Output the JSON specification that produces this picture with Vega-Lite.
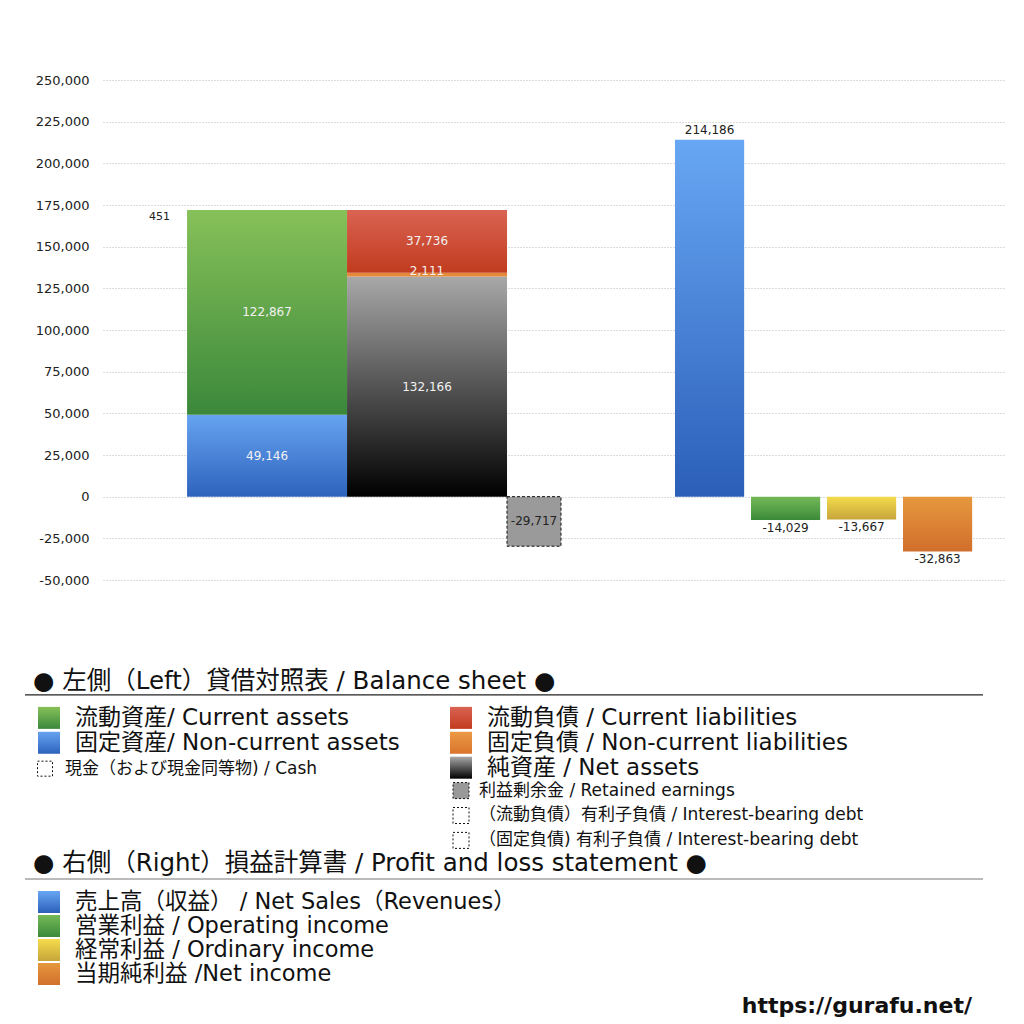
{
  "$schema": "https://vega.github.io/schema/vega-lite/v6.json",
  "background": "white",
  "padding": {"left": 0, "top": 74, "right": 0, "bottom": 0},
  "spacing": 0,
  "config": {
    "locale": {"number": {"decimal": ".", "thousands": ",", "grouping": [3], "currency": ["$", ""], "minus": "-"}},
    "view": {"stroke": null},
    "font": "DejaVu Sans, Noto Sans CJK JP"
  },
  "datasets": {
    "fin": [
      {"side": "BS", "column": "資産", "key": "noncurrent_assets", "item": "固定資産", "value": 49146, "rank": 1},
      {"side": "BS", "column": "資産", "key": "current_assets", "item": "流動資産", "value": 122867, "rank": 2},
      {"side": "BS", "column": "資産", "key": "cash", "item": "現金", "value": 451, "rank": 3},
      {"side": "BS", "column": "負債・純資産", "key": "net_assets", "item": "純資産", "value": 132166, "rank": 1},
      {"side": "BS", "column": "負債・純資産", "key": "noncurrent_liabilities", "item": "固定負債", "value": 2111, "rank": 2},
      {"side": "BS", "column": "負債・純資産", "key": "current_liabilities", "item": "流動負債", "value": 37736, "rank": 3},
      {"side": "RE", "column": "利益剰余金", "key": "retained", "item": "利益剰余金", "value": -29717, "rank": 1},
      {"side": "PL", "column": "売上高", "key": "sales", "item": "売上高", "value": 214186, "rank": 1},
      {"side": "PL", "column": "営業利益", "key": "operating", "item": "営業利益", "value": -14029, "rank": 1},
      {"side": "PL", "column": "経常利益", "key": "ordinary", "item": "経常利益", "value": -13667, "rank": 1},
      {"side": "PL", "column": "当期純利益", "key": "net_income", "item": "当期純利益", "value": -32863, "rank": 1}
    ],
    "bslegend": [
      {"line": 0, "col": "left", "kind": "title", "key": "", "text": "● 左側（Left）貸借対照表 / Balance sheet ●"},
      {"line": 1, "col": "left", "kind": "big", "key": "current_assets", "text": "流動資産/ Current assets"},
      {"line": 2, "col": "left", "kind": "big", "key": "noncurrent_assets", "text": "固定資産/ Non-current assets"},
      {"line": 3, "col": "left", "kind": "small", "key": "cash", "text": "現金（および現金同等物) / Cash"},
      {"line": 1, "col": "right", "kind": "big", "key": "current_liabilities", "text": "流動負債 /  Current liabilities"},
      {"line": 2, "col": "right", "kind": "big", "key": "noncurrent_liabilities", "text": "固定負債 / Non-current liabilities"},
      {"line": 3, "col": "right", "kind": "big", "key": "net_assets", "text": "純資産 / Net assets"},
      {"line": 4, "col": "right", "kind": "small", "key": "retained", "text": "利益剰余金 / Retained earnings"},
      {"line": 5, "col": "right", "kind": "small", "key": "ibd_current", "text": "（流動負債）有利子負債 / Interest-bearing debt"},
      {"line": 6, "col": "right", "kind": "small", "key": "ibd_noncurrent", "text": "（固定負債) 有利子負債 / Interest-bearing debt"}
    ],
    "pllegend": [
      {"line": 0, "col": "left", "kind": "title", "key": "", "text": "● 右側（Right）損益計算書 / Profit and loss statement ●"},
      {"line": 1, "col": "left", "kind": "big", "key": "sales", "text": "売上高（収益） / Net Sales（Revenues）"},
      {"line": 2, "col": "left", "kind": "big", "key": "operating", "text": "営業利益 / Operating income"},
      {"line": 3, "col": "left", "kind": "big", "key": "ordinary", "text": "経常利益 / Ordinary income"},
      {"line": 4, "col": "left", "kind": "big", "key": "net_income", "text": "当期純利益 /Net income"},
      {"line": 5, "col": "right", "kind": "url", "key": "", "text": "https://gurafu.net/"}
    ]
  },
  "vconcat": [
    {
      "width": 902,
      "height": 500,
      "data": {"name": "fin"},
      "resolve": {"scale": {"x": "independent"}},
      "layer": [
        {
          "transform": [{"filter": "datum.side === 'BS'"}],
          "encoding": {
            "x": {"field": "column", "type": "nominal", "sort": null, "axis": null,
                  "scale": {"domain": ["資産", "負債・純資産", "_b1", "_b2", "_b3"], "paddingInner": 0, "paddingOuter": 0.319, "align": 0.8235}}
          },
          "layer": [
            {
              "mark": {"type": "bar"},
              "encoding": {
                "y": {"field": "value", "type": "quantitative", "stack": "zero",
                      "scale": {"domain": [-50000, 250000], "nice": false, "zero": false},
                      "axis": {"values": [-50000, -25000, 0, 25000, 50000, 75000, 100000, 125000, 150000, 175000, 200000, 225000, 250000], "labelExpr": "replace(format(datum.value, ','), '\u2212', '-')", "title": null, "domain": false, "ticks": false, "labelPadding": 14, "labelFontSize": 13, "labelColor": "#222", "labelFont": "DejaVu Sans", "grid": true, "gridDash": [1, 2], "gridColor": "#b8b8b8", "gridWidth": 1, "minExtent": 103, "maxExtent": 103}},
                "detail": {"field": "key"},
                "order": {"field": "rank", "type": "quantitative"},
                "color": {
                  "condition": [
                    {"test": "datum.key === 'current_assets'", "value": {"gradient": "linear", "x1": 0, "y1": 0, "x2": 0, "y2": 1, "stops": [{"offset": 0, "color": "#87c159"}, {"offset": 1, "color": "#3b883b"}]}},
                    {"test": "datum.key === 'noncurrent_assets'", "value": {"gradient": "linear", "x1": 0, "y1": 0, "x2": 0, "y2": 1, "stops": [{"offset": 0, "color": "#66a3f0"}, {"offset": 1, "color": "#2e63bd"}]}},
                    {"test": "datum.key === 'net_assets'", "value": {"gradient": "linear", "x1": 0, "y1": 0, "x2": 0, "y2": 1, "stops": [{"offset": 0, "color": "#a8a8a8"}, {"offset": 1, "color": "#000000"}]}},
                    {"test": "datum.key === 'current_liabilities'", "value": {"gradient": "linear", "x1": 0, "y1": 0, "x2": 0, "y2": 1, "stops": [{"offset": 0, "color": "#da6352"}, {"offset": 1, "color": "#c13b1f"}]}},
                    {"test": "datum.key === 'noncurrent_liabilities'", "value": "#e58a38"}
                  ],
                  "value": "transparent"
                }
              }
            },
            {
              "mark": {"type": "text", "fontSize": 12, "color": "#f2f2f2", "font": "DejaVu Sans"},
              "encoding": {
                "y": {"field": "value", "type": "quantitative", "stack": "zero", "bandPosition": 0.5,
                      "scale": {"domain": [-50000, 250000], "nice": false, "zero": false},
                      "axis": {"values": [-50000, -25000, 0, 25000, 50000, 75000, 100000, 125000, 150000, 175000, 200000, 225000, 250000], "labelExpr": "replace(format(datum.value, ','), '\u2212', '-')", "title": null, "domain": false, "ticks": false, "labelPadding": 14, "labelFontSize": 13, "labelColor": "#222", "labelFont": "DejaVu Sans", "grid": true, "gridDash": [1, 2], "gridColor": "#b8b8b8", "gridWidth": 1, "minExtent": 103, "maxExtent": 103}},
                "detail": {"field": "key"},
                "order": {"field": "rank", "type": "quantitative"},
                "text": {"condition": {"test": "datum.key === 'cash' || datum.key === 'noncurrent_liabilities'", "value": ""}, "field": "value", "type": "quantitative", "format": ","}
              }
            },
            {
              "mark": {"type": "text", "fontSize": 12, "color": "#f2f2f2", "font": "DejaVu Sans", "baseline": "bottom", "dy": 5},
              "encoding": {
                "y": {"field": "value", "type": "quantitative", "stack": "zero", "bandPosition": 1,
                      "scale": {"domain": [-50000, 250000], "nice": false, "zero": false},
                      "axis": {"values": [-50000, -25000, 0, 25000, 50000, 75000, 100000, 125000, 150000, 175000, 200000, 225000, 250000], "labelExpr": "replace(format(datum.value, ','), '\u2212', '-')", "title": null, "domain": false, "ticks": false, "labelPadding": 14, "labelFontSize": 13, "labelColor": "#222", "labelFont": "DejaVu Sans", "grid": true, "gridDash": [1, 2], "gridColor": "#b8b8b8", "gridWidth": 1, "minExtent": 103, "maxExtent": 103}},
                "detail": {"field": "key"},
                "order": {"field": "rank", "type": "quantitative"},
                "text": {"condition": {"test": "datum.key !== 'noncurrent_liabilities'", "value": ""}, "field": "value", "type": "quantitative", "format": ","}
              }
            },
            {
              "mark": {"type": "text", "fontSize": 11, "color": "#222", "font": "DejaVu Sans", "align": "right", "dx": -17, "dy": 7},
              "encoding": {
                "x": {"field": "column", "type": "nominal", "bandPosition": 0},
                "y": {"field": "value", "type": "quantitative", "stack": "zero", "bandPosition": 0.5,
                      "scale": {"domain": [-50000, 250000], "nice": false, "zero": false},
                      "axis": {"values": [-50000, -25000, 0, 25000, 50000, 75000, 100000, 125000, 150000, 175000, 200000, 225000, 250000], "labelExpr": "replace(format(datum.value, ','), '\u2212', '-')", "title": null, "domain": false, "ticks": false, "labelPadding": 14, "labelFontSize": 13, "labelColor": "#222", "labelFont": "DejaVu Sans", "grid": true, "gridDash": [1, 2], "gridColor": "#b8b8b8", "gridWidth": 1, "minExtent": 103, "maxExtent": 103}},
                "detail": {"field": "key"},
                "order": {"field": "rank", "type": "quantitative"},
                "text": {"condition": {"test": "datum.key !== 'cash'", "value": ""}, "field": "value", "type": "quantitative", "format": ","}
              }
            }
          ]
        },
        {
          "transform": [{"filter": "datum.side === 'RE'"}],
          "encoding": {
            "x": {"field": "column", "type": "nominal", "sort": null, "axis": null,
                  "scale": {"domain": ["_r1", "_r2", "_r3", "_r4", "_r5", "_r6", "_r7", "利益剰余金", "_r8", "_r9", "_r10", "_r11", "_r12", "_r13", "_r14", "_r15"], "paddingInner": 0, "paddingOuter": 0.352, "align": 0.684}}
          },
          "layer": [
            {
              "mark": {"type": "bar", "fill": "#9a9a9a", "stroke": "#111", "strokeWidth": 1, "strokeDash": [3, 2]},
              "encoding": {
                "y": {"field": "value", "type": "quantitative", "stack": "zero",
                      "scale": {"domain": [-50000, 250000], "nice": false, "zero": false},
                      "axis": {"values": [-50000, -25000, 0, 25000, 50000, 75000, 100000, 125000, 150000, 175000, 200000, 225000, 250000], "labelExpr": "replace(format(datum.value, ','), '\u2212', '-')", "title": null, "domain": false, "ticks": false, "labelPadding": 14, "labelFontSize": 13, "labelColor": "#222", "labelFont": "DejaVu Sans", "grid": true, "gridDash": [1, 2], "gridColor": "#b8b8b8", "gridWidth": 1, "minExtent": 103, "maxExtent": 103}}
              }
            },
            {
              "mark": {"type": "text", "fontSize": 12, "color": "#222", "font": "DejaVu Sans"},
              "encoding": {
                "y": {"field": "value", "type": "quantitative", "stack": "zero", "bandPosition": 0.5,
                      "scale": {"domain": [-50000, 250000], "nice": false, "zero": false},
                      "axis": {"values": [-50000, -25000, 0, 25000, 50000, 75000, 100000, 125000, 150000, 175000, 200000, 225000, 250000], "labelExpr": "replace(format(datum.value, ','), '\u2212', '-')", "title": null, "domain": false, "ticks": false, "labelPadding": 14, "labelFontSize": 13, "labelColor": "#222", "labelFont": "DejaVu Sans", "grid": true, "gridDash": [1, 2], "gridColor": "#b8b8b8", "gridWidth": 1, "minExtent": 103, "maxExtent": 103}},
                "text": {"field": "value", "type": "quantitative", "format": ","}
              }
            }
          ]
        },
        {
          "transform": [{"filter": "datum.side === 'PL'"}],
          "encoding": {
            "x": {"field": "column", "type": "nominal", "sort": null, "axis": null,
                  "scale": {"domain": ["_p1", "_p2", "_p3", "_p4", "_p5", "_p6", "_p7", "売上高", "営業利益", "経常利益", "当期純利益"], "paddingInner": 0.09, "paddingOuter": 0.479, "align": 0.549}}
          },
          "layer": [
            {
              "mark": {"type": "bar"},
              "encoding": {
                "y": {"field": "value", "type": "quantitative", "stack": null,
                      "scale": {"domain": [-50000, 250000], "nice": false, "zero": false},
                      "axis": {"values": [-50000, -25000, 0, 25000, 50000, 75000, 100000, 125000, 150000, 175000, 200000, 225000, 250000], "labelExpr": "replace(format(datum.value, ','), '\u2212', '-')", "title": null, "domain": false, "ticks": false, "labelPadding": 14, "labelFontSize": 13, "labelColor": "#222", "labelFont": "DejaVu Sans", "grid": true, "gridDash": [1, 2], "gridColor": "#b8b8b8", "gridWidth": 1, "minExtent": 103, "maxExtent": 103}},
                "color": {
                  "condition": [
                    {"test": "datum.key === 'sales'", "value": {"gradient": "linear", "x1": 0, "y1": 0, "x2": 0, "y2": 1, "stops": [{"offset": 0, "color": "#68a7f4"}, {"offset": 1, "color": "#2b5fb8"}]}},
                    {"test": "datum.key === 'operating'", "value": {"gradient": "linear", "x1": 0, "y1": 0, "x2": 0, "y2": 1, "stops": [{"offset": 0, "color": "#74b957"}, {"offset": 1, "color": "#3b8a3a"}]}},
                    {"test": "datum.key === 'ordinary'", "value": {"gradient": "linear", "x1": 0, "y1": 0, "x2": 0, "y2": 1, "stops": [{"offset": 0, "color": "#f4dc4c"}, {"offset": 1, "color": "#c6a53a"}]}},
                    {"test": "datum.key === 'net_income'", "value": {"gradient": "linear", "x1": 0, "y1": 0, "x2": 0, "y2": 1, "stops": [{"offset": 0, "color": "#e6983e"}, {"offset": 1, "color": "#d16f2c"}]}}
                  ],
                  "value": "#999"
                }
              }
            },
            {
              "transform": [{"filter": "datum.value > 0"}],
              "mark": {"type": "text", "fontSize": 12, "color": "#222", "font": "DejaVu Sans", "baseline": "bottom", "dy": -3},
              "encoding": {
                "y": {"field": "value", "type": "quantitative",
                      "scale": {"domain": [-50000, 250000], "nice": false, "zero": false},
                      "axis": {"values": [-50000, -25000, 0, 25000, 50000, 75000, 100000, 125000, 150000, 175000, 200000, 225000, 250000], "labelExpr": "replace(format(datum.value, ','), '\u2212', '-')", "title": null, "domain": false, "ticks": false, "labelPadding": 14, "labelFontSize": 13, "labelColor": "#222", "labelFont": "DejaVu Sans", "grid": true, "gridDash": [1, 2], "gridColor": "#b8b8b8", "gridWidth": 1, "minExtent": 103, "maxExtent": 103}},
                "text": {"field": "value", "type": "quantitative", "format": ","}
              }
            },
            {
              "transform": [{"filter": "datum.value < 0"}],
              "mark": {"type": "text", "fontSize": 12, "color": "#222", "font": "DejaVu Sans", "baseline": "top", "dy": 3},
              "encoding": {
                "y": {"field": "value", "type": "quantitative",
                      "scale": {"domain": [-50000, 250000], "nice": false, "zero": false},
                      "axis": {"values": [-50000, -25000, 0, 25000, 50000, 75000, 100000, 125000, 150000, 175000, 200000, 225000, 250000], "labelExpr": "replace(format(datum.value, ','), '\u2212', '-')", "title": null, "domain": false, "ticks": false, "labelPadding": 14, "labelFontSize": 13, "labelColor": "#222", "labelFont": "DejaVu Sans", "grid": true, "gridDash": [1, 2], "gridColor": "#b8b8b8", "gridWidth": 1, "minExtent": 103, "maxExtent": 103}},
                "text": {"field": "value", "type": "quantitative", "format": ","}
              }
            }
          ]
        }
      ]
    },
    {
      "width": 358,
      "height": 262,
      "data": {"name": "bslegend"},
      "encoding": {
        "x": {"field": "col", "type": "nominal", "axis": null, "scale": {"type": "point", "domain": ["left", "right"], "padding": 0}},
        "y": {"field": "line", "type": "ordinal", "axis": null, "scale": {"type": "point", "domain": [-3, -2, -1, 0, 1, 2, 3, 4, 5, 6], "padding": 0.76, "align": 0.667}}
      },
      "layer": [
        {
          "transform": [{"filter": "datum.kind === 'title'"}],
          "mark": {"type": "text", "align": "left", "dx": -70, "dy": -5, "fontSize": 24.5, "color": "#111"},
          "encoding": {"text": {"field": "text"}}
        },
        {
          "transform": [{"filter": "datum.kind === 'title'"}],
          "mark": {"type": "rule", "color": "#222", "strokeWidth": 1.2, "xOffset": -78, "x2Offset": 522, "yOffset": 8},
          "encoding": {"x2": {"datum": "right"}}
        },
        {
          "transform": [{"filter": "datum.kind === 'big' && datum.col === 'left'"}],
          "mark": {"type": "point", "shape": "square", "size": 484, "filled": true, "opacity": 1, "strokeWidth": 0, "xOffset": -54, "yOffset": 6},
          "encoding": {
            "color": {
              "condition": [
                {"test": "datum.key === 'current_assets'", "value": {"gradient": "linear", "x1": 0, "y1": 0, "x2": 0, "y2": 1, "stops": [{"offset": 0, "color": "#87c159"}, {"offset": 1, "color": "#3b883b"}]}},
                {"test": "datum.key === 'noncurrent_assets'", "value": {"gradient": "linear", "x1": 0, "y1": 0, "x2": 0, "y2": 1, "stops": [{"offset": 0, "color": "#66a3f0"}, {"offset": 1, "color": "#2e63bd"}]}}
              ],
              "value": "#999"
            }
          }
        },
        {
          "transform": [{"filter": "datum.kind === 'big' && datum.col === 'right'"}],
          "mark": {"type": "point", "shape": "square", "size": 484, "filled": true, "opacity": 1, "strokeWidth": 0, "yOffset": 6},
          "encoding": {
            "color": {
              "condition": [
                {"test": "datum.key === 'net_assets'", "value": {"gradient": "linear", "x1": 0, "y1": 0, "x2": 0, "y2": 1, "stops": [{"offset": 0, "color": "#a8a8a8"}, {"offset": 1, "color": "#000000"}]}},
                {"test": "datum.key === 'current_liabilities'", "value": {"gradient": "linear", "x1": 0, "y1": 0, "x2": 0, "y2": 1, "stops": [{"offset": 0, "color": "#da6352"}, {"offset": 1, "color": "#c13b1f"}]}},
                {"test": "datum.key === 'noncurrent_liabilities'", "value": {"gradient": "linear", "x1": 0, "y1": 0, "x2": 0, "y2": 1, "stops": [{"offset": 0, "color": "#ec9a45"}, {"offset": 1, "color": "#d9742c"}]}}
              ],
              "value": "#999"
            }
          }
        },
        {
          "transform": [{"filter": "datum.kind === 'big' && datum.col === 'left'"}],
          "mark": {"type": "text", "align": "left", "dx": -28, "dy": 6, "fontSize": 23, "color": "#111"},
          "encoding": {"text": {"field": "text"}}
        },
        {
          "transform": [{"filter": "datum.kind === 'big' && datum.col === 'right'"}],
          "mark": {"type": "text", "align": "left", "dx": 26, "dy": 6, "fontSize": 23, "color": "#111"},
          "encoding": {"text": {"field": "text"}}
        },
        {
          "transform": [{"filter": "datum.kind === 'small' && datum.col === 'left'"}],
          "mark": {"type": "point", "shape": "square", "size": 225, "filled": true, "opacity": 1, "fill": "#ffffff", "stroke": "#111", "strokeWidth": 1, "strokeDash": [2, 2], "xOffset": -58, "yOffset": 7}
        },
        {
          "transform": [{"filter": "datum.kind === 'small' && datum.col === 'left'"}],
          "mark": {"type": "text", "align": "left", "dx": -38, "dy": 7, "fontSize": 17, "color": "#111"},
          "encoding": {"text": {"field": "text"}}
        },
        {
          "transform": [{"filter": "datum.kind === 'small' && datum.col === 'right'"}],
          "mark": {"type": "point", "shape": "square", "size": 256, "filled": true, "opacity": 1, "stroke": "#111", "strokeWidth": 1, "strokeDash": [2, 2], "yOffset": 4},
          "encoding": {
            "fill": {"condition": {"test": "datum.key === 'retained'", "value": "#999999"}, "value": "#ffffff"}
          }
        },
        {
          "transform": [{"filter": "datum.kind === 'small' && datum.col === 'right'"}],
          "mark": {"type": "text", "align": "left", "dx": 18, "dy": 4, "fontSize": 17, "color": "#111"},
          "encoding": {"text": {"field": "text"}}
        }
      ]
    },
    {
      "width": 358,
      "height": 168,
      "data": {"name": "pllegend"},
      "encoding": {
        "x": {"field": "col", "type": "nominal", "axis": null, "scale": {"type": "point", "domain": ["left", "right"], "padding": 0}},
        "y": {"field": "line", "type": "ordinal", "axis": null, "scale": {"type": "point", "domain": [0, 1, 2, 3, 4, 5], "padding": 1, "align": 0.5}}
      },
      "layer": [
        {
          "transform": [{"filter": "datum.kind === 'title'"}],
          "mark": {"type": "text", "align": "left", "dx": -70, "dy": -14, "fontSize": 24.5, "color": "#111"},
          "encoding": {"text": {"field": "text"}}
        },
        {
          "transform": [{"filter": "datum.kind === 'title'"}],
          "mark": {"type": "rule", "color": "#777", "strokeWidth": 1.2, "xOffset": -78, "x2Offset": 522, "yOffset": 1},
          "encoding": {"x2": {"datum": "right"}}
        },
        {
          "transform": [{"filter": "datum.kind === 'big'"}],
          "mark": {"type": "point", "shape": "square", "size": 484, "filled": true, "opacity": 1, "strokeWidth": 0, "xOffset": -54, "yOffset": 0},
          "encoding": {
            "color": {
              "condition": [
                {"test": "datum.key === 'sales'", "value": {"gradient": "linear", "x1": 0, "y1": 0, "x2": 0, "y2": 1, "stops": [{"offset": 0, "color": "#68a7f4"}, {"offset": 1, "color": "#2b5fb8"}]}},
                {"test": "datum.key === 'operating'", "value": {"gradient": "linear", "x1": 0, "y1": 0, "x2": 0, "y2": 1, "stops": [{"offset": 0, "color": "#74b957"}, {"offset": 1, "color": "#3b8a3a"}]}},
                {"test": "datum.key === 'ordinary'", "value": {"gradient": "linear", "x1": 0, "y1": 0, "x2": 0, "y2": 1, "stops": [{"offset": 0, "color": "#f4dc4c"}, {"offset": 1, "color": "#c6a53a"}]}},
                {"test": "datum.key === 'net_income'", "value": {"gradient": "linear", "x1": 0, "y1": 0, "x2": 0, "y2": 1, "stops": [{"offset": 0, "color": "#e6983e"}, {"offset": 1, "color": "#d16f2c"}]}}
              ],
              "value": "#999"
            }
          }
        },
        {
          "transform": [{"filter": "datum.kind === 'big'"}],
          "mark": {"type": "text", "align": "left", "dx": -28, "dy": 0, "fontSize": 22.5, "color": "#111"},
          "encoding": {"text": {"field": "text"}}
        },
        {
          "transform": [{"filter": "datum.kind === 'url'"}],
          "mark": {"type": "text", "align": "right", "dx": 511, "dy": 8, "fontSize": 22, "fontWeight": "bold", "font": "DejaVu Sans", "color": "#111"},
          "encoding": {"text": {"field": "text"}}
        }
      ]
    }
  ]
}
